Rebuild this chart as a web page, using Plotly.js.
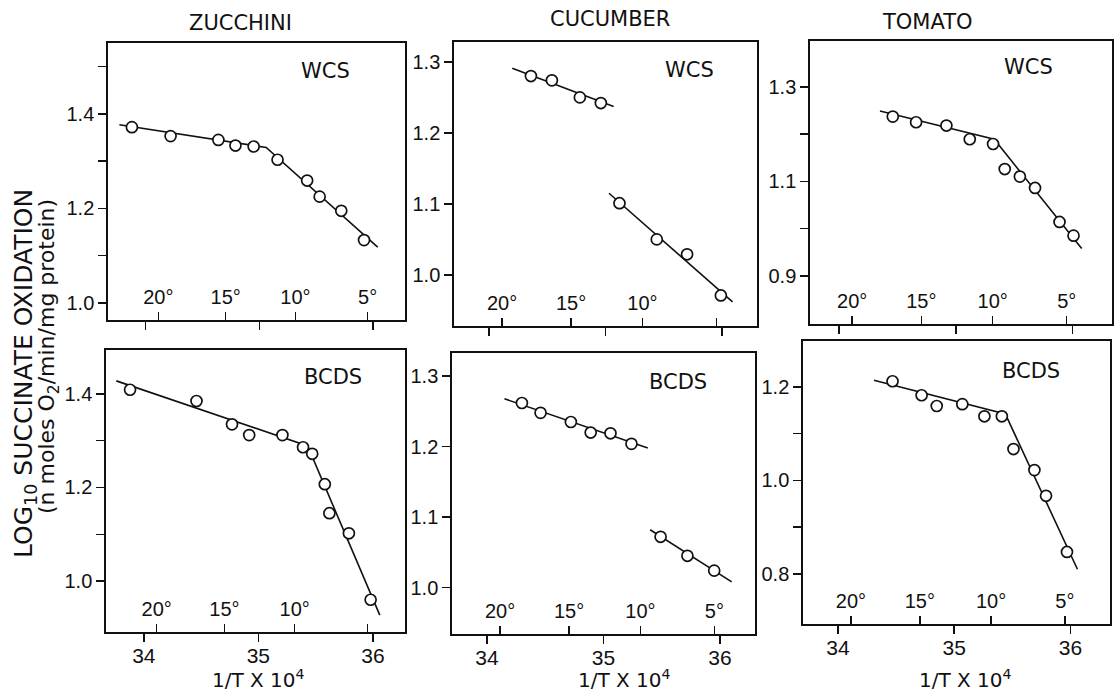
<!DOCTYPE html>
<html>
<head>
<meta charset="utf-8">
<script src="https://cdn.plot.ly/plotly-3.0.1.min.js"></script>
<style>
  html, body { margin: 0; padding: 0; background: #fff; }
  #chart { width: 1119px; height: 691px; }
</style>
</head>
<body>
<div id="chart"></div>
<script>
// ---------- DATA ----------
const columnTitles = ["ZUCCHINI", "CUCUMBER", "TOMATO"];
const rowLabels = ["WCS", "BCDS"];
const temperaturesC = [20, 15, 10, 5];
const temperatureLabels = ["20°", "15°", "10°", "5°"];
const invTTickVals = [34, 35, 36];
const invTTickText = ["34", "35", "36"];

// Zucchini WCS
const zWcsX = [33.88, 34.22, 34.64, 34.79, 34.95, 35.16, 35.42, 35.53, 35.72, 35.92];
const zWcsY = [1.372, 1.353, 1.345, 1.333, 1.331, 1.303, 1.259, 1.225, 1.195, 1.133];
const zWcsFitX = [33.77, 35.06, 36.04];
const zWcsFitY = [1.377, 1.329, 1.118];

// Cucumber WCS (two separate lines)
const cWcsX = [34.36, 34.54, 34.78, 34.96, 35.12, 35.44, 35.70, 35.99];
const cWcsY = [1.280, 1.274, 1.250, 1.242, 1.101, 1.050, 1.029, 0.971];
const cWcsFitX = [34.20, 35.07, null, 35.03, 36.09];
const cWcsFitY = [1.291, 1.237, null, 1.115, 0.962];

// Tomato WCS
const tWcsX = [34.46, 34.66, 34.92, 35.12, 35.32, 35.42, 35.55, 35.68, 35.89, 36.01];
const tWcsY = [1.237, 1.225, 1.218, 1.189, 1.179, 1.126, 1.110, 1.086, 1.014, 0.985];
const tWcsFitX = [34.35, 35.33, 36.08];
const tWcsFitY = [1.249, 1.189, 0.958];

// Zucchini BCDS
const zBcdsX = [33.88, 34.46, 34.77, 34.92, 35.21, 35.39, 35.47, 35.58, 35.62, 35.79, 35.98];
const zBcdsY = [1.409, 1.385, 1.335, 1.312, 1.312, 1.286, 1.272, 1.207, 1.145, 1.102, 0.960];
const zBcdsFitX = [33.76, 35.43, 36.06];
const zBcdsFitY = [1.428, 1.289, 0.927];

// Cucumber BCDS (two separate lines)
const cBcdsX = [34.30, 34.46, 34.72, 34.89, 35.06, 35.24, 35.49, 35.72, 35.95];
const cBcdsY = [1.262, 1.248, 1.235, 1.220, 1.219, 1.204, 1.072, 1.045, 1.024];
const cBcdsFitX = [34.15, 35.38, null, 35.40, 36.10];
const cBcdsFitY = [1.268, 1.198, null, 1.082, 1.008];

// Tomato BCDS
const tBcdsX = [34.47, 34.72, 34.85, 35.07, 35.26, 35.41, 35.51, 35.69, 35.79, 35.97];
const tBcdsY = [1.212, 1.182, 1.159, 1.163, 1.137, 1.137, 1.067, 1.022, 0.967, 0.847];
const tBcdsFitX = [34.31, 35.44, 36.06];
const tBcdsFitY = [1.214, 1.142, 0.810];

// ---------- LAYOUT CONFIG ----------
const W = 1119, H = 691;
const NUMFONT = "Liberation Sans, Arial, sans-serif";
const TXTFONT = "DejaVu Sans, Verdana, sans-serif";
const INK = "#111";

// labelled y ticks / minor (unlabelled) y ticks; how many temperature labels are written
const panels = [
  {x: zWcsX, y: zWcsY, fx: zWcsFitX, fy: zWcsFitY, box: [108, 43, 405, 320], xr: [33.67, 36.28], yr: [0.964, 1.55],
   yt: [1.0, 1.2, 1.4], ym: [1.1, 1.3, 1.5], tempShown: 4, xlab: false, tag: "WCS", tagPos: [325, 71]},
  {x: cWcsX, y: cWcsY, fx: cWcsFitX, fy: cWcsFitY, box: [454, 42, 757, 326], xr: [33.70, 36.30], yr: [0.928, 1.328],
   yt: [1.0, 1.1, 1.2, 1.3], ym: [], tempShown: 3, xlab: false, tag: "WCS", tagPos: [689, 70]},
  {x: tWcsX, y: tWcsY, fx: tWcsFitX, fy: tWcsFitY, box: [810, 41, 1112, 324], xr: [33.75, 36.34], yr: [0.798, 1.397],
   yt: [0.9, 1.1, 1.3], ym: [1.0, 1.2], tempShown: 4, xlab: false, tag: "WCS", tagPos: [1028, 67]},
  {x: zBcdsX, y: zBcdsY, fx: zBcdsFitX, fy: zBcdsFitY, box: [106, 350, 405, 632], xr: [33.67, 36.28], yr: [0.891, 1.494],
   yt: [1.0, 1.2, 1.4], ym: [1.1, 1.3], tempShown: 3, xlab: true, tag: "BCDS", tagPos: [333, 377]},
  {x: cBcdsX, y: cBcdsY, fx: cBcdsFitX, fy: cBcdsFitY, box: [452, 353, 755, 634], xr: [33.70, 36.30], yr: [0.934, 1.333],
   yt: [1.0, 1.1, 1.2, 1.3], ym: [], tempShown: 4, xlab: true, tag: "BCDS", tagPos: [678, 382]},
  {x: tBcdsX, y: tBcdsY, fx: tBcdsFitX, fy: tBcdsFitY, box: [803, 341, 1110, 624], xr: [33.70, 36.34], yr: [0.693, 1.298],
   yt: [0.8, 1.0, 1.2], ym: [0.9, 1.1], tempShown: 4, xlab: true, tag: "BCDS", tagPos: [1031, 371]}
];

// temperature (°C) -> 1/T x 10^4 positions for the inner scale
const tempTickVals = temperaturesC.map(t => 1e4 / (273.15 + t));

const data = [];
const layout = {
  width: W, height: H,
  margin: {l: 0, r: 0, t: 0, b: 0},
  paper_bgcolor: "#fff", plot_bgcolor: "#fff",
  showlegend: false,
  font: {family: NUMFONT, color: INK, size: 19},
  annotations: []
};

panels.forEach((p, i) => {
  const n = i + 1, m = i + 7;
  const xa = "x" + n, ya = "y" + n, xt = "x" + m;
  const [l, t, r, b] = p.box;
  const xd = [l / W, r / W], yd = [1 - b / H, 1 - t / H];

  data.push({x: p.fx, y: p.fy, xaxis: xa, yaxis: ya, mode: "lines", connectgaps: false,
             line: {color: INK, width: 1.6}, hoverinfo: "skip"});
  data.push({x: p.x, y: p.y, xaxis: xa, yaxis: ya, mode: "markers",
             marker: {symbol: "circle", size: 11, color: "#fff", line: {color: INK, width: 1.7}}});
  // invisible trace to activate the temperature scale axis
  data.push({x: tempTickVals, y: tempTickVals.map(() => null), xaxis: xt, yaxis: ya, mode: "markers",
             hoverinfo: "skip", marker: {opacity: 0}});

  layout["xaxis" + n] = {
    domain: xd, anchor: ya, range: p.xr, fixedrange: true,
    showline: true, mirror: true, linecolor: INK, linewidth: 1.7,
    showgrid: false, zeroline: false,
    ticks: "outside", ticklen: 8, tickwidth: 1.5, tickcolor: INK,
    tickmode: "array", tickvals: invTTickVals, ticktext: invTTickText,
    showticklabels: p.xlab, ticklabelstandoff: -4,
    tickfont: {family: NUMFONT, size: 21, color: INK}
  };
  // temperature scale: a top-side axis sitting on the bottom border, ticks pointing up into the box
  layout["xaxis" + m] = {
    overlaying: xa, anchor: "free", position: yd[0], side: "top",
    range: p.xr, fixedrange: true,
    showline: false, showgrid: false, zeroline: false,
    ticks: "outside", ticklen: 8, tickwidth: 1.5, tickcolor: INK,
    tickmode: "array",
    tickvals: tempTickVals.slice(0, p.tempShown),
    ticktext: temperatureLabels.slice(0, p.tempShown),
    minor: {tickmode: "array", tickvals: tempTickVals.slice(p.tempShown),
            ticks: "outside", ticklen: 8, tickwidth: 1.5, tickcolor: INK, showgrid: false},
    tickfont: {family: NUMFONT, size: 20, color: INK}
  };
  layout["yaxis" + n] = {
    domain: yd, anchor: xa, range: p.yr, fixedrange: true,
    showline: true, mirror: true, linecolor: INK, linewidth: 1.7,
    showgrid: false, zeroline: false,
    ticks: "outside", ticklen: 8, tickwidth: 1.5, tickcolor: INK,
    tickmode: "array", tickvals: p.yt, ticktext: p.yt.map(v => v.toFixed(1)),
    minor: {tickmode: "array", tickvals: p.ym, ticks: "outside", ticklen: 8, tickwidth: 1.5,
            tickcolor: INK, showgrid: false},
    tickfont: {family: NUMFONT, size: 20, color: INK}
  };

  layout.annotations.push({text: p.tag, xref: "paper", yref: "paper",
    x: p.tagPos[0] / W, y: 1 - p.tagPos[1] / H, xanchor: "center", yanchor: "middle",
    showarrow: false, font: {family: TXTFONT, size: 21, color: INK}});

  if (p.xlab) {
    const cx = [258, 624, 965][i - 3];
    layout.annotations.push({text: "1/T X 10<sup>4</sup>", xref: "paper", yref: "paper",
      x: cx / W, y: 1 - 679 / H, xanchor: "center", yanchor: "middle",
      showarrow: false, font: {family: TXTFONT, size: 20, color: INK}});
  }
});

const titlePos = [[240, 23], [610, 19], [927, 22]];
columnTitles.forEach((c, k) => {
  layout.annotations.push({text: c, xref: "paper", yref: "paper",
    x: titlePos[k][0] / W, y: 1 - titlePos[k][1] / H, xanchor: "center", yanchor: "middle",
    showarrow: false, font: {family: TXTFONT, size: 21, color: INK}});
});

layout.annotations.push({text: "LOG<sub>10</sub> SUCCINATE OXIDATION", xref: "paper", yref: "paper",
  x: 25 / W, y: 1 - 374 / H, xanchor: "center", yanchor: "middle", textangle: -90,
  showarrow: false, font: {family: TXTFONT, size: 25, color: INK}});
layout.annotations.push({text: "(n moles O<sub>2</sub>/min/mg protein)", xref: "paper", yref: "paper",
  x: 49 / W, y: 1 - 357 / H, xanchor: "center", yanchor: "middle", textangle: -90,
  showarrow: false, font: {family: TXTFONT, size: 22, color: INK}});

Plotly.newPlot("chart", data, layout, {staticPlot: true, displayModeBar: false});
</script>
</body>
</html>
